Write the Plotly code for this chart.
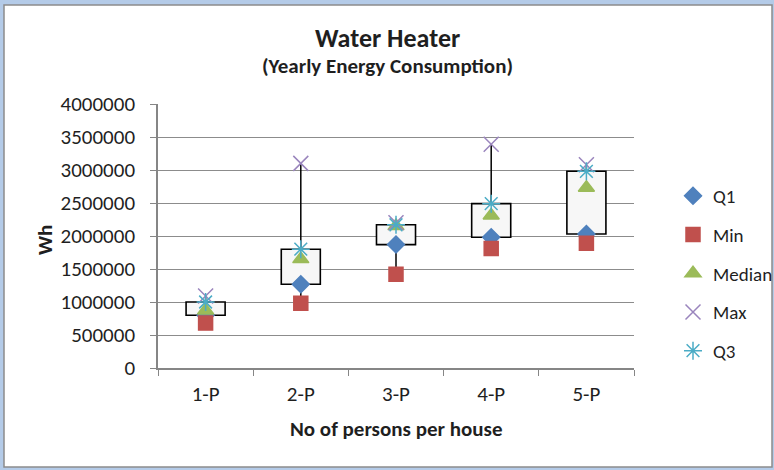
import plotly.graph_objects as go

# values (Wh per year)
categories = ["1-P", "2-P", "3-P", "4-P", "5-P"]
q1_vals = [800000, 1270000, 1870000, 1980000, 2030000]
min_vals = [680000, 980000, 1420000, 1810000, 1890000]
median_vals = [870000, 1650000, 2150000, 2310000, 2730000]
max_vals = [1090000, 3100000, 2200000, 3390000, 3080000]
q3_vals = [1000000, 1800000, 2170000, 2490000, 2980000]

y_ticks = list(range(0, 4000001, 500000))

FONT = "Carlito, Lato, sans-serif"
TEXT = "#1f1f1f"

# plot area in pixels: x 158..634, y 104..368
L, R, T, B = 158, 140, 104, 102
PW, PH = 774 - L - R, 470 - T - B


def px_x(x):
    return (x - L) / PW


def px_y(y):
    return (470 - B - y) / PH


def label(text, x, y, size, angle=0):
    return dict(text=text, x=px_x(x), y=px_y(y), xref="paper", yref="paper",
                xanchor="center", yanchor="middle", showarrow=False,
                textangle=angle, font=dict(size=size))


fig = go.Figure()

# boxes Q1..Q3
fig.add_trace(go.Bar(
    x=categories,
    y=[b - a for a, b in zip(q1_vals, q3_vals)],
    base=q1_vals,
    width=0.41,
    marker=dict(color="#f7f7f7", line=dict(color="black", width=1.6)),
    showlegend=False,
    hoverinfo="skip",
))

# whiskers
wx, wy = [], []
for c, lo, a, b, hi in zip(categories, min_vals, q1_vals, q3_vals, max_vals):
    wx += [c, c, None, c, c, None]
    wy += [b, hi, None, a, lo, None]
fig.add_trace(go.Scatter(
    x=wx, y=wy, mode="lines",
    line=dict(color="black", width=1.5),
    showlegend=False, hoverinfo="skip",
))

series = [
    ("Q1", q1_vals, "diamond", "#4f81bd", 13),
    ("Min", min_vals, "square", "#c0504d", 14),
    ("Median", median_vals, "triangle-up", "#9bbb59", 14),
    ("Max", max_vals, "x-thin-open", "#9a85bd", 15),
    ("Q3", q3_vals, "asterisk-open", "#4bacc6", 15),
]
for name, vals, sym, col, size in series:
    fig.add_trace(go.Scatter(
        x=categories, y=vals, mode="markers", name=name,
        legendgroup=name,
        marker=dict(symbol=sym, color=col, size=size,
                    line=dict(color=col, width=1.5)),
    ))

fig.update_layout(
    width=774,
    height=470,
    margin=dict(l=L, r=R, t=T, b=B, autoexpand=False),
    paper_bgcolor="#b4cbe8",
    plot_bgcolor="rgba(0,0,0,0)",
    font=dict(family=FONT, size=21, color=TEXT),
    showlegend=True,
    barmode="overlay",
    legend=dict(
        x=px_x(673), y=px_y(177), xanchor="left", yanchor="top",
        traceorder="grouped", tracegroupgap=11,
        font=dict(size=19), bgcolor="rgba(0,0,0,0)",
    ),
    shapes=[dict(
        type="rect", xref="paper", yref="paper", layer="below",
        x0=px_x(4), x1=px_x(772), y0=px_y(467), y1=px_y(5),
        fillcolor="white", line=dict(color="#8c8c8c", width=1.5),
    )],
    annotations=[
        label("<b>Water Heater</b>", 387, 38, 26),
        label("<b>(Yearly Energy Consumption)</b>", 387, 66, 21),
        label("<b>Wh</b>", 45, 240, 21, angle=-90),
        label("<b>No of persons per house</b>", 396, 429, 21),
    ],
)

fig.update_xaxes(
    type="category",
    range=[-0.5, 4.5],
    showline=True, linecolor="#868686", linewidth=1.5,
    ticks="outside", tickson="boundaries", ticklen=6, tickcolor="#868686",
    showgrid=False,
    ticklabelstandoff=6,
    tickfont=dict(size=21),
)
fig.update_yaxes(
    range=[0, 4000000],
    tickvals=y_ticks,
    tickformat="d",
    showline=True, linecolor="#868686", linewidth=1.5,
    ticks="outside", ticklen=6, tickcolor="#868686",
    showgrid=True, gridcolor="#8c8c8c", gridwidth=1,
    zeroline=False,
    ticklabelstandoff=11,
    tickfont=dict(size=21),
)

# the page has a default body margin; drop it so the 774x470 figure fills the window
fig.write_html("out.html", config={"displayModeBar": False},
               post_script="document.body.style.margin='0';")
